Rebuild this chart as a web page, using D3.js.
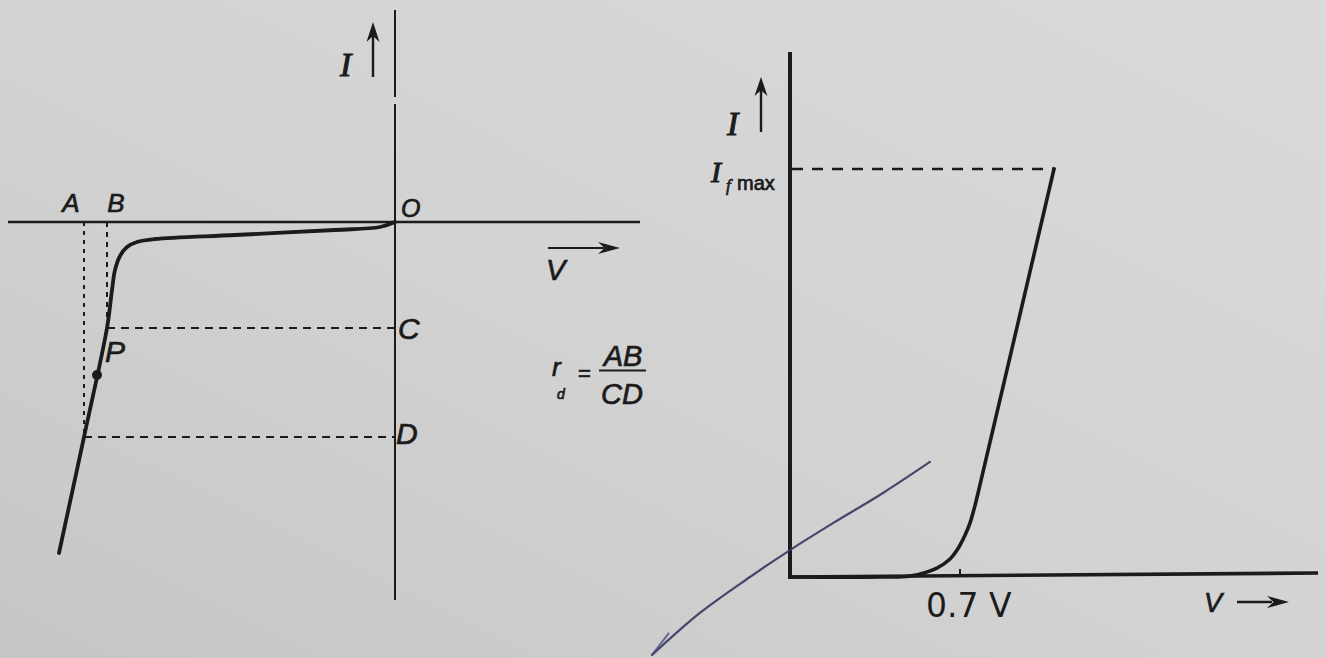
<!DOCTYPE html>
<html>
<head>
<meta charset="utf-8">
<script src="https://cdn.jsdelivr.net/npm/d3@7"></script>
<style>
  html, body { margin: 0; padding: 0; background: #d1d1d1; }
  svg { display: block; }
</style>
</head>
<body>
<svg id="chart" width="1326" height="658"></svg>
<script>
// ---- Reverse (breakdown) characteristic, left diagram ----
// voltage (V) and current (mA) along the curve, starting at the origin O
const reverseV = [0, -1.5, -6, -16, -24, -25.8, -26.8, -27.5, -28.0, -28.3, -28.8, -31.1, -33.6];
const reverseI = [0, -0.5, -0.8, -1.3, -1.7, -2.0, -2.5, -3.4, -4.8, -6.8, -10.6, -21.5, -33.1];
// construction points: A, B are voltages; C, D are currents; P lies on the curve
const voltA = -31.1, voltB = -28.8;
const currC = -10.6, currD = -21.5;
const pointP = [-29.8, -15.3];
const reverseLabels = ["A", "B", "C", "D", "O", "P"];

// ---- Forward characteristic, right diagram ----
const forwardV = [0, 0.371, 0.494, 0.605, 0.659, 0.688, 0.721, 0.741, 0.762, 0.782, 1.087];
const forwardI = [0, 0, 0.25, 2.2, 4.4, 6.6, 10.3, 13.2, 17.6, 22.5, 100];
const kneeV = 0.7, kneeLabel = "0.7 V";
const ifMax = 100;
// hand-drawn pen stroke crossing the forward diagram (same units)
const penV = [-0.568, -0.371, -0.165, 0, 0.177, 0.383, 0.576];
const penI = [-19.1, -8.8, 0, 6.6, 13.2, 20.6, 28.2];

const ink = "#1b1b1b";
const svg = d3.select("#chart");
const W = 1326, H = 658;

// paper background
const defs = svg.append("defs");
const grad = defs.append("linearGradient").attr("id", "paper")
  .attr("x1", "0%").attr("y1", "100%").attr("x2", "100%").attr("y2", "0%");
grad.append("stop").attr("offset", "0%").attr("stop-color", "#c6c6c6");
grad.append("stop").attr("offset", "45%").attr("stop-color", "#d2d2d2");
grad.append("stop").attr("offset", "100%").attr("stop-color", "#dadada");
svg.append("rect").attr("width", W).attr("height", H).attr("fill", "url(#paper)");

function arrowHead(g, tipX, tipY, dir, len, half) {
  // dir: "up" or "right"
  const pts = dir === "up"
    ? [[tipX, tipY], [tipX - half, tipY + len], [tipX, tipY + len * 0.7], [tipX + half, tipY + len]]
    : [[tipX, tipY], [tipX - len, tipY - half], [tipX - len * 0.7, tipY], [tipX - len, tipY + half]];
  g.append("path").attr("d", "M" + pts.map(p => p.join(",")).join("L") + "Z").attr("fill", ink);
}

// ================= left diagram =================
const xL = d3.scaleLinear().domain([-34, 0]).range([55, 395]);
const yL = d3.scaleLinear().domain([-33, 0]).range([552, 222]);
const gL = svg.append("g");

// axes
gL.append("line").attr("x1", 8).attr("x2", 640).attr("y1", yL(0)).attr("y2", yL(0))
  .attr("stroke", ink).attr("stroke-width", 2.4);
gL.append("line").attr("x1", xL(0)).attr("x2", xL(0)).attr("y1", 10).attr("y2", 97)
  .attr("stroke", ink).attr("stroke-width", 2);
gL.append("line").attr("x1", xL(0)).attr("x2", xL(0)).attr("y1", 104).attr("y2", 600)
  .attr("stroke", ink).attr("stroke-width", 2);

// construction lines
const dashed = (x1, y1, x2, y2, da) => gL.append("line")
  .attr("x1", x1).attr("y1", y1).attr("x2", x2).attr("y2", y2)
  .attr("stroke", ink).attr("stroke-width", 2).attr("stroke-dasharray", da);
dashed(xL(voltA), yL(0), xL(voltA), yL(currD), "4 5");
dashed(xL(voltB), yL(0), xL(voltB), yL(currC), "5 5");
dashed(xL(voltB), yL(currC), xL(0), yL(currC), "8 6");
dashed(xL(voltA), yL(currD), xL(0), yL(currD), "8 6");

// curve
const revData = reverseV.map((v, i) => [v, reverseI[i]]);
gL.append("path").datum(revData)
  .attr("d", d3.line().x(d => xL(d[0])).y(d => yL(d[1])).curve(d3.curveCatmullRom.alpha(0.5)))
  .attr("fill", "none").attr("stroke", ink).attr("stroke-width", 3.8)
  .attr("stroke-linecap", "round").attr("stroke-linejoin", "round");

gL.append("circle").attr("cx", xL(pointP[0])).attr("cy", yL(pointP[1])).attr("r", 5).attr("fill", ink);

// labels (a thin outline gives the heavier printed look)
const sans = "'Liberation Sans', Arial, sans-serif";
const serif = "'Liberation Serif', 'Times New Roman', serif";
const label = (g, t, x, y, size, opts = {}) => g.append("text")
  .attr("x", x).attr("y", y).text(t)
  .attr("font-family", opts.family || sans)
  .attr("font-style", opts.style || "italic")
  .attr("font-size", size)
  .attr("text-anchor", opts.anchor || "start")
  .attr("fill", ink)
  .attr("stroke", ink)
  .attr("stroke-width", opts.sw === undefined ? 0.7 : opts.sw);

label(gL, reverseLabels[0], xL(voltA) - 13, 212, 26, { anchor: "middle" });
label(gL, reverseLabels[1], xL(voltB) + 9, 212, 26, { anchor: "middle" });
label(gL, reverseLabels[2], xL(0) + 3, yL(currC) + 11, 30);
label(gL, reverseLabels[3], xL(0) + 1, yL(currD) + 7, 30);
label(gL, reverseLabels[4], xL(0) + 6, yL(0) - 5, 25);
label(gL, reverseLabels[5], xL(pointP[0]) + 8, yL(pointP[1]) - 13, 30);

// I axis label with arrow
label(gL, "I", 340, 76, 34, { family: serif, sw: 1 });
gL.append("line").attr("x1", 373).attr("x2", 373).attr("y1", 77).attr("y2", 36)
  .attr("stroke", ink).attr("stroke-width", 2.4);
arrowHead(gL, 373, 22, "up", 20, 6.5);

// V axis label with arrow
label(gL, "V", 546, 280, 29);
gL.append("line").attr("x1", 548).attr("x2", 604).attr("y1", 248).attr("y2", 248)
  .attr("stroke", ink).attr("stroke-width", 2.2);
arrowHead(gL, 620, 248, "right", 22, 6);

// r_d = AB / CD
label(gL, "r", 552, 376, 26);
label(gL, "d", 557, 399, 14);
label(gL, "=", 578, 381, 22, { style: "normal" });
label(gL, "AB", 623, 366, 29, { anchor: "middle" });
gL.append("line").attr("x1", 599).attr("x2", 646).attr("y1", 370.5).attr("y2", 370.5)
  .attr("stroke", ink).attr("stroke-width", 2);
label(gL, "CD", 622, 404, 29, { anchor: "middle" });

// ================= right diagram =================
const xR = d3.scaleLinear().domain([0, kneeV]).range([790, 960]);
const yR = d3.scaleLinear().domain([0, ifMax]).range([577, 169]);
const gR = svg.append("g");

gR.append("line").attr("x1", xR(0)).attr("x2", xR(0)).attr("y1", 52).attr("y2", yR(0) + 2)
  .attr("stroke", ink).attr("stroke-width", 4);
gR.append("line").attr("x1", xR(0) - 2).attr("x2", 1318).attr("y1", yR(0)).attr("y2", yR(0) - 4)
  .attr("stroke", ink).attr("stroke-width", 3.6);

// 0.7 V tick
gR.append("line").attr("x1", xR(kneeV)).attr("x2", xR(kneeV)).attr("y1", yR(0) - 8).attr("y2", yR(0))
  .attr("stroke", ink).attr("stroke-width", 2);

// I_f max dashed level
const fwdData = forwardV.map((v, i) => [v, forwardI[i]]);
const topV = forwardV[forwardV.length - 1];
gR.append("line").attr("x1", xR(0) + 2).attr("x2", xR(topV)).attr("y1", yR(ifMax)).attr("y2", yR(ifMax))
  .attr("stroke", ink).attr("stroke-width", 2.4).attr("stroke-dasharray", "11 9");

gR.append("path").datum(fwdData)
  .attr("d", d3.line().x(d => xR(d[0])).y(d => yR(d[1])).curve(d3.curveCatmullRom.alpha(0.5)))
  .attr("fill", "none").attr("stroke", ink).attr("stroke-width", 3.6)
  .attr("stroke-linecap", "square").attr("stroke-linejoin", "miter");

// pen stroke
const penData = penV.map((v, i) => [v, penI[i]]);
gR.append("path").datum(penData)
  .attr("d", d3.line().x(d => xR(d[0])).y(d => yR(d[1])).curve(d3.curveCatmullRom.alpha(0.5)))
  .attr("fill", "none").attr("stroke", "#36375e").attr("stroke-width", 2.2)
  .attr("stroke-linecap", "round").attr("opacity", 0.9);
gR.append("path")
  .attr("d", `M${xR(penV[0])},${yR(penI[0])}L${xR(penV[0]) + 17},${yR(penI[0]) - 22}`)
  .attr("stroke", "#4a4c80").attr("stroke-width", 2).attr("fill", "none").attr("opacity", 0.8);

// labels
label(gR, "I", 727, 135, 34, { family: serif, sw: 1 });
gR.append("line").attr("x1", 761).attr("x2", 761).attr("y1", 132).attr("y2", 90)
  .attr("stroke", ink).attr("stroke-width", 2.4);
arrowHead(gR, 761, 77, "up", 19, 6.5);

label(gR, "I", 711, 182, 30, { family: serif, sw: 1 });
label(gR, "f", 726, 191, 17, { family: serif });
label(gR, "max", 737, 190, 20, { style: "normal" });

label(gR, kneeLabel, 926, 617, 33, { family: "'DejaVu Sans', sans-serif", style: "normal", sw: 0 });

label(gR, "V", 1204, 612, 27);
gR.append("line").attr("x1", 1237).attr("x2", 1272).attr("y1", 602).attr("y2", 602)
  .attr("stroke", ink).attr("stroke-width", 2.4);
arrowHead(gR, 1289, 602, "right", 22, 6);
</script>
</body>
</html>
